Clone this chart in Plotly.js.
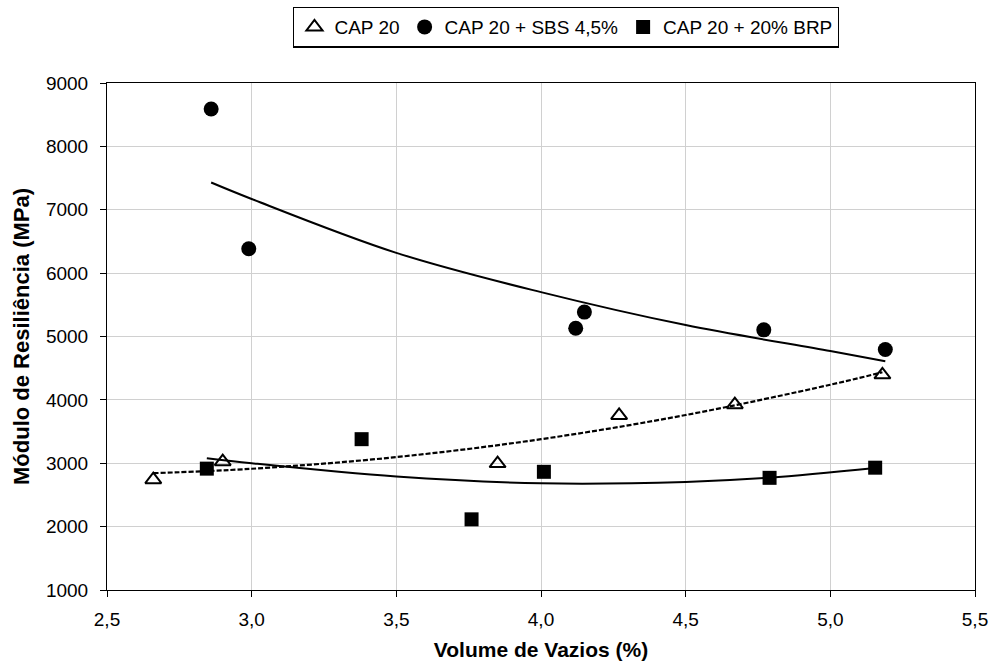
<!DOCTYPE html>
<html>
<head>
<meta charset="utf-8">
<script src="https://cdn.plot.ly/plotly-3.0.1.min.js"></script>
<style>html,body{margin:0;padding:0;background:#fff;}#chart{width:994px;height:662px;}</style>
</head>
<body>
<div id="chart"></div>
<script>
// Data points
const cap20_x = [2.66, 2.90, 3.85, 4.27, 4.67, 5.18];
const cap20_y = [2740, 3025, 2995, 3755, 3925, 4395];
const sbs_x = [2.86, 2.99, 4.12, 4.15, 4.77, 5.19];
const sbs_y = [8590, 6385, 5130, 5385, 5105, 4795];
const brp_x = [2.845, 3.38, 3.76, 4.01, 4.79, 5.155];
const brp_y = [2915, 3380, 2115, 2865, 2770, 2930];

// Trend lines
const cap20_trend_x = [2.66, 3.0, 3.5, 4.0, 4.5, 5.0, 5.18];
const cap20_trend_y = [2843, 2913, 3097, 3380, 3761, 4239, 4436];
const sbs_trend_x = [2.86, 3.0, 3.5, 4.0, 4.5, 5.0, 5.19];
const sbs_trend_y = [7430, 7170, 6320, 5700, 5180, 4770, 4610];
const brp_trend_x = [2.845, 3.0, 3.5, 4.0, 4.5, 4.79, 5.155];
const brp_trend_y = [3080, 3000, 2790, 2684, 2705, 2772, 2925];

const seriesNames = ['CAP 20', 'CAP 20 + SBS 4,5%', 'CAP 20 + 20% BRP'];

const traces = [
  {x: cap20_trend_x, y: cap20_trend_y, mode: 'lines', line: {color: '#000', width: 2.2, dash: '5px,2px', shape: 'spline'}, showlegend: false, hoverinfo: 'skip'},
  {x: sbs_trend_x, y: sbs_trend_y, mode: 'lines', line: {color: '#000', width: 2, shape: 'spline'}, showlegend: false, hoverinfo: 'skip'},
  {x: brp_trend_x, y: brp_trend_y, mode: 'lines', line: {color: '#000', width: 2, shape: 'spline'}, showlegend: false, hoverinfo: 'skip'},
  {x: cap20_x, y: cap20_y, name: seriesNames[0], mode: 'markers', marker: {symbol: 'triangle-up-open', size: 14, color: '#000', line: {color: '#000', width: 2}}},
  {x: sbs_x, y: sbs_y, name: seriesNames[1], mode: 'markers', marker: {symbol: 'circle', size: 15, color: '#000'}},
  {x: brp_x, y: brp_y, name: seriesNames[2], mode: 'markers', marker: {symbol: 'square', size: 14, color: '#000'}}
];

const layout = {
  width: 994, height: 662,
  margin: {l: 107, r: 19, t: 83, b: 72, autoexpand: false},
  paper_bgcolor: '#fff', plot_bgcolor: '#fff',
  separators: ',.',
  font: {family: 'Liberation Sans, Arial, sans-serif', size: 19, color: '#000'},
  showlegend: true,
  legend: {
    orientation: 'h', x: 0.529, xanchor: 'center', y: 1.11, yanchor: 'middle',
    bordercolor: '#000', borderwidth: 1.3, bgcolor: '#fff',
    font: {size: 19, color: '#000'}, itemwidth: 30, traceorder: 'normal'
  },
  xaxis: {
    range: [2.5, 5.5], dtick: 0.5, tick0: 2.5, tickformat: '.1f',
    showgrid: true, gridcolor: '#d0d0d0', gridwidth: 1,
    showline: true, linecolor: '#000', linewidth: 1, mirror: true,
    ticks: 'outside', ticklen: 6, tickcolor: '#000', zeroline: false,
    ticklabelstandoff: 6, automargin: false,
    tickfont: {size: 19},
    title: {text: '<b>Volume de Vazios (%)</b>', font: {size: 21}, standoff: 13}
  },
  yaxis: {
    range: [1000, 9000], dtick: 1000, tick0: 1000,
    showgrid: true, gridcolor: '#d0d0d0', gridwidth: 1,
    showline: true, linecolor: '#000', linewidth: 1, mirror: true,
    ticks: 'outside', ticklen: 6, tickcolor: '#000', zeroline: false,
    ticklabelstandoff: 8, automargin: false,
    tickfont: {size: 19},
    title: {text: '<b>Módulo de Resiliência (MPa)</b>', font: {size: 22}, standoff: 10}
  }
};

Plotly.newPlot('chart', traces, layout, {displayModeBar: false, staticPlot: true});
</script>
</body>
</html>
